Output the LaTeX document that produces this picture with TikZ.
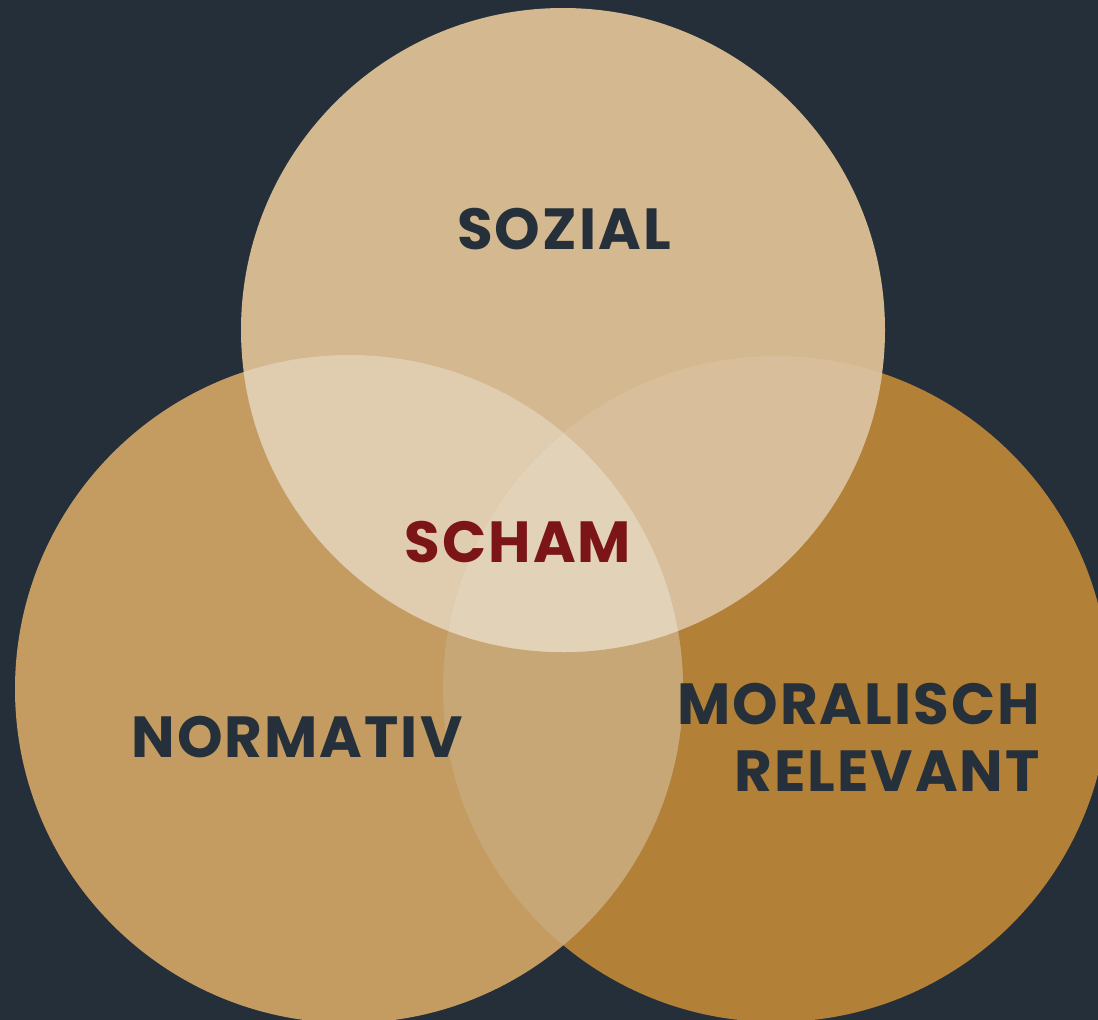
\documentclass[tikz,border=0pt]{standalone}
\usepackage{fontspec}
\newfontfamily\labelfont[LetterSpace=3.5]{Poppins}[BoldFont=* Bold]
\definecolor{bgc}{HTML}{252F39}
\definecolor{topc}{HTML}{D4B88F}
\definecolor{leftc}{HTML}{C49C62}
\definecolor{rightc}{HTML}{B28036}
\definecolor{tlc}{HTML}{E0CCAF}
\definecolor{trc}{HTML}{D8BE9A}
\definecolor{lrc}{HTML}{C8A776}
\definecolor{allc}{HTML}{E2D2B8}
\definecolor{textc}{HTML}{25303A}
\definecolor{schamc}{HTML}{7B1517}
\tikzset{
  lbl/.style={font=\labelfont\bfseries\fontsize{58}{64}\selectfont, text=textc, inner sep=0pt},
}
\begin{document}
\begin{tikzpicture}[x=1pt,y=-1pt]
\fill[bgc] (0,0) rectangle (1098,1020);
\useasboundingbox (0,0) rectangle (1098,1020);
\def\topcirc{(563,330) circle[radius=322]}
\def\leftcirc{(349,689) circle[radius=334]}
\def\rightcirc{(776,689) circle[radius=333]}
\begin{scope}
\clip (0,0) rectangle (1098,1020);
\fill[rightc] \rightcirc;
\fill[leftc] \leftcirc;
\begin{scope}\clip \leftcirc; \fill[lrc] \rightcirc; \end{scope}
\fill[topc] \topcirc;
\begin{scope}\clip \topcirc; \fill[tlc] \leftcirc; \end{scope}
\begin{scope}\clip \topcirc; \fill[trc] \rightcirc; \end{scope}
\begin{scope}\clip \topcirc; \clip \leftcirc; \fill[allc] \rightcirc; \end{scope}
\end{scope}
\node[lbl] (sozial) at (564,229) {SOZIAL};
\node[lbl, text=schamc] (scham) at (518,542) {SCHAM};
\node[lbl] (normativ) at (297,737) {NORMATIV};
\node[lbl, anchor=east] (moralisch) at (1040,704) {MORALISCH};
\node[lbl, anchor=east] (relevant) at (1040,771) {RELEVANT};
\end{tikzpicture}
\end{document}
